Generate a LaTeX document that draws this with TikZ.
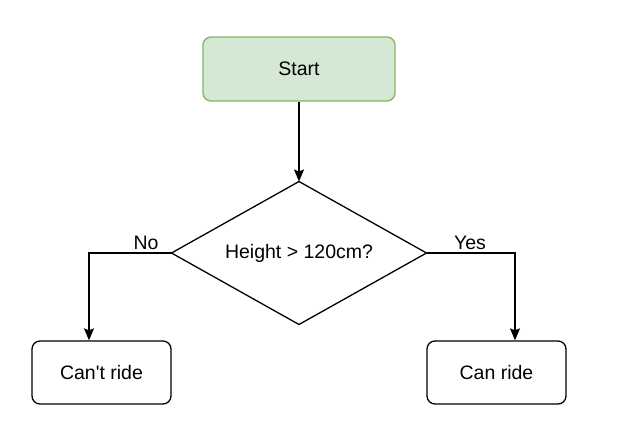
\documentclass[tikz,border=0pt]{standalone}
\usepackage{fontspec}
\setmainfont{Liberation Sans}
\usetikzlibrary{shapes.geometric,arrows.meta}
\definecolor{startfill}{HTML}{D5E8D4}
\definecolor{startdraw}{HTML}{82B366}
\begin{document}
\begin{tikzpicture}[x=1pt,y=1pt,
  font=\fontsize{19.5}{23}\selectfont,
  box/.style={draw=black, line width=1.3pt, rounded corners=8pt, minimum width=139pt, minimum height=63pt, inner sep=0pt},
  startbox/.style={draw=startdraw, fill=startfill, line width=1.3pt, rounded corners=8pt, minimum width=192pt, minimum height=64pt, inner sep=0pt},
  decision/.style={draw=black, line width=1.3pt, diamond, shape aspect=1.78, minimum width=255pt, minimum height=143pt, inner sep=0pt, outer sep=0pt},
  conn/.style={draw=black, line width=1.3pt, -{Stealth[inset=2pt,length=12pt,width=10pt]}},
  lbl/.style={inner sep=0pt}
]
\useasboundingbox (0,0) rectangle (632,-442);
\node[startbox] (start) at (299,-69) {Start};
\node[decision] (dec) at (299,-253) {Height > 120cm?};
\node[box] (cant) at (101.5,-372.5) {Can\textquotesingle t ride};
\node[box] (can) at (496.5,-372.5) {Can ride};
\draw[conn] (start.south) -- (dec.north);
\draw[conn] (dec.west) -| ([xshift=-12.5pt]cant.north);
\draw[conn] (dec.east) -| ([xshift=18.5pt]can.north);
\node[lbl] (no) at (146,-243) {No};
\node[lbl] (yes) at (470,-243) {Yes};
\end{tikzpicture}
\end{document}
